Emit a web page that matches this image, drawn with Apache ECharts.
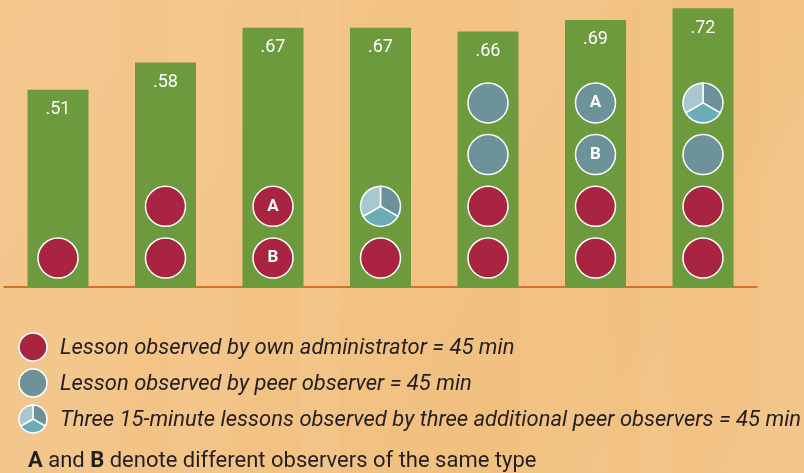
<!DOCTYPE html>
<html>
<head>
<meta charset="utf-8">
<script src="https://cdn.jsdelivr.net/npm/echarts@6/dist/echarts.min.js"></script>
<style>
  html, body { margin: 0; padding: 0; }
  #chart { width: 804px; height: 473px; }
</style>
</head>
<body>
<div id="chart"></div>
<script>
// data
const categories = ["1", "2", "3", "4", "5", "6", "7"];
const scores = [0.51, 0.58, 0.67, 0.67, 0.66, 0.69, 0.72];
// lessons per bar, bottom to top: R = own administrator, P = peer, T = three 15-min peers
// ":A" / ":B" marks the observer letter
const lessons = [
  ["R"],
  ["R", "R"],
  ["R:B", "R:A"],
  ["R", "T"],
  ["R", "R", "P", "P"],
  ["R", "R", "P:B", "P:A"],
  ["R", "R", "P", "T"],
];
const legendTexts = [
  "Lesson observed by own administrator = 45 min",
  "Lesson observed by peer observer = 45 min",
  "Three 15-minute lessons observed by three additional peer observers = 45 min",
];

const RED = "#a82441";
const PEER = "#6e929a";
const TRIO = ["#6c9199", "#6badb7", "#a7c8ce"]; // upper right, bottom, upper left
const GREEN = "#6e9a3e";
const FONT = "Roboto";

// turn lesson lists into points [barIndex, slot, letter]
function pointsOf(type) {
  const out = [];
  lessons.forEach((list, i) => {
    list.forEach((code, k) => {
      const parts = code.split(":");
      if (parts[0] === type) out.push([i, k + 1, parts[1] || ""]);
    });
  });
  return out;
}

function trioSectors(cx, cy, r) {
  const a = [-Math.PI / 2, Math.PI / 6, (5 * Math.PI) / 6, (3 * Math.PI) / 2];
  return [0, 1, 2].map((j) => ({
    type: "sector",
    shape: { cx: cx, cy: cy, r0: 0, r: r, startAngle: a[j], endAngle: a[j + 1], clockwise: true },
    style: { fill: TRIO[j], stroke: "#fff", lineWidth: 1.5 },
  }));
}

const circleLabel = {
  show: true,
  position: "inside",
  color: "#fff",
  fontFamily: FONT,
  fontWeight: "bold",
  fontSize: 17,
  formatter: (p) => p.data[2],
};

const chart = echarts.init(document.getElementById("chart"));

// legend drawn as graphic elements
const legendY = [347, 383, 419];
const legendGraphic = [
  { type: "circle", shape: { cx: 33, cy: legendY[0], r: 14 }, style: { fill: RED, stroke: "#fff", lineWidth: 1.5 } },
  { type: "circle", shape: { cx: 33, cy: legendY[1], r: 14 }, style: { fill: PEER, stroke: "#fff", lineWidth: 1.5 } },
  ...trioSectors(33, legendY[2], 14),
];
legendTexts.forEach((t, i) => {
  legendGraphic.push({
    type: "text",
    x: 60,
    y: legendY[i] + 1,
    style: { text: t, fill: "#231f20", font: "italic 22px " + FONT, verticalAlign: "middle" },
  });
});
legendGraphic.push({
  type: "text",
  x: 28,
  y: 461,
  style: {
    text: "{b|A} and {b|B} denote different observers of the same type",
    fill: "#231f20",
    font: "22px " + FONT,
    verticalAlign: "middle",
    rich: { b: { fontWeight: "bold", fontSize: 22, fontFamily: FONT, fill: "#231f20" } },
  },
});

// faint background streaks
const streaks = [
  { x: 0, w: 120, o: 0.05 }, { x: 170, w: 60, o: 0.06 }, { x: 300, w: 40, o: 0.05 },
  { x: 520, w: 90, o: 0.06 }, { x: 640, w: 30, o: 0.05 }, { x: 760, w: 44, o: 0.06 },
];
const bgGraphic = streaks.map((s) => ({
  type: "rect",
  z: -10,
  silent: true,
  shape: { x: s.x, y: 0, width: s.w, height: 473 },
  style: { fill: "rgba(255,240,210," + s.o + ")" },
}));

chart.setOption({
  backgroundColor: new echarts.graphic.LinearGradient(0, 0, 1, 1, [
    { offset: 0, color: "#f4c68b" },
    { offset: 0.45, color: "#f3c385" },
    { offset: 0.7, color: "#f1c07f" },
    { offset: 1, color: "#f3c589" },
  ]),
  animation: false,
  grid: { left: 4.25, right: 47.25, top: 0, bottom: 186 },
  xAxis: {
    type: "category",
    data: categories,
    axisLine: { show: true, lineStyle: { color: "#d3732b", width: 2 } },
    axisTick: { show: false },
    axisLabel: { show: false },
  },
  yAxis: [
    { type: "value", min: 0, max: 287 / 387, show: false, splitLine: { show: false } },
    // slot axis for stacked lesson circles
    { type: "value", min: 0.44, max: 5.99, show: false, splitLine: { show: false } },
  ],
  series: [
    {
      type: "bar",
      data: scores,
      barWidth: 61,
      itemStyle: { color: GREEN },
      label: {
        show: true,
        position: "insideTop",
        distance: 11,
        color: "#fff",
        fontFamily: FONT,
        fontSize: 18,
        formatter: (p) => p.value.toFixed(2).replace(/^0/, ""),
      },
      z: 1,
    },
    {
      type: "scatter",
      yAxisIndex: 1,
      data: pointsOf("R"),
      symbol: "circle",
      symbolSize: 40,
      itemStyle: { color: RED, borderColor: "#fff", borderWidth: 1.5, opacity: 1 },
      label: circleLabel,
      z: 3,
    },
    {
      type: "scatter",
      yAxisIndex: 1,
      data: pointsOf("P"),
      symbol: "circle",
      symbolSize: 40,
      itemStyle: { color: PEER, borderColor: "#fff", borderWidth: 1.5, opacity: 1 },
      label: circleLabel,
      z: 3,
    },
    {
      type: "custom",
      yAxisIndex: 1,
      data: pointsOf("T"),
      renderItem: (params, api) => {
        const p = api.coord([api.value(0), api.value(1)]);
        return { type: "group", children: trioSectors(p[0], p[1], 20) };
      },
      z: 3,
    },
  ],
  graphic: bgGraphic.concat(legendGraphic),
});
</script>
</body>
</html>
